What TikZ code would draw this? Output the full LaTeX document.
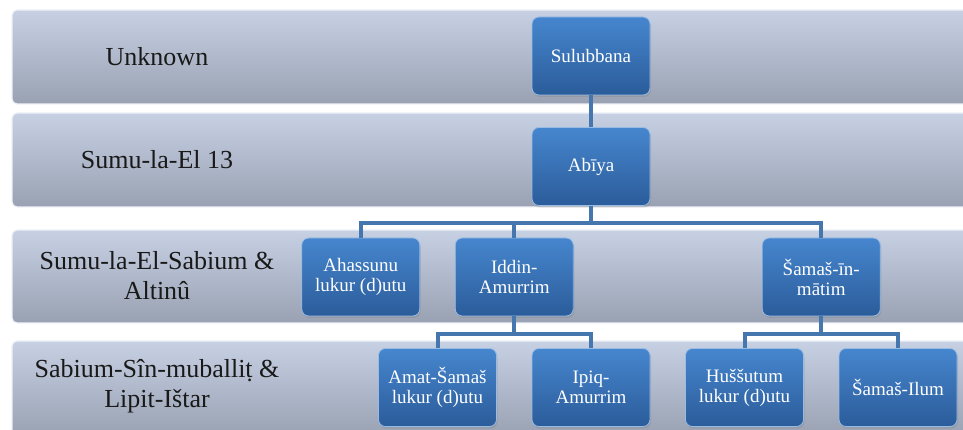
\documentclass[tikz,border=0pt]{standalone}
\usepackage{fontspec}
\setmainfont{Liberation Serif}
\usetikzlibrary{shadows}

\definecolor{bandtop}{HTML}{C7D1E4}
\definecolor{bandbot}{HTML}{99A1B2}
\definecolor{boxtop}{HTML}{4686CE}
\definecolor{boxbot}{HTML}{2B5C9A}
\definecolor{linkblue}{HTML}{4676AE}

\begin{document}
\begin{tikzpicture}[x=1pt, y=1pt, node distance=110.5pt,
  band/.style={rounded corners=5pt, top color=bandtop, bottom color=bandbot, draw=white!70!bandtop, line width=1.2pt, minimum width=963pt, inner sep=0pt},
  era/.style={align=center, text=black!90, font=\fontsize{26}{30}\selectfont},
  person/.style={rounded corners=7pt, top color=boxtop, bottom color=boxbot, draw=boxtop!55!white, line width=0.8pt, minimum width=118pt, minimum height=78pt, inner sep=1pt, align=center, text=white, font=\fontsize{19}{20}\selectfont, drop shadow={opacity=0.3, shadow xshift=1pt, shadow yshift=-2pt}},
  link/.style={draw=linkblue, line width=4pt}]
\clip (0,0) rectangle (963,430);

% generation bands
\node[band, minimum height=94pt] (band1) at (493.5,373) {};
\node[band, minimum height=94pt] (band2) at (493.5,270) {};
\node[band, minimum height=93pt] (band3) at (493.5,153.5) {};
\node[band, minimum height=95pt] (band4) at (493.5,41.5) {};

\node[era] (era1) at (157,373) {Unknown};
\node[era] (era2) at (157,270) {Sumu-la-El 13};
\node[era] (era3) at (157,154) {Sumu-la-El-Sabium \&\\Altinû};
\node[era] (era4) at (157,44) {Sabium-Sîn-muballiṭ \&\\Lipit-Ištar};

% family tree
\node[person] (sulubbana) at (591,374) {Sulubbana};
\node[person, below of=sulubbana] (abiya) {Abīya};
\node[person, below of=abiya, xshift=-230.25pt] (ahassunu) {Ahassunu\\lukur (d)utu};
\node[person, below of=abiya, xshift=-76.75pt] (iddin) {Iddin-\\Amurrim};
\node[person, below of=abiya, xshift=230.25pt] (samasin) {Šamaš-īn-\\mātim};
\node[person, below of=iddin, xshift=-76.75pt] (amat) {Amat-Šamaš\\lukur (d)utu};
\node[person, below of=iddin, xshift=76.75pt] (ipiq) {Ipiq-\\Amurrim};
\node[person, below of=samasin, xshift=-76.75pt] (hussutum) {Huššutum\\lukur (d)utu};
\node[person, below of=samasin, xshift=76.75pt] (ilum) {Šamaš-Ilum};

\draw[link] (sulubbana) -- (abiya);
\draw[link] (abiya.south) -- ++(0,-17) -| (ahassunu.north);
\draw[link] (abiya.south) -- ++(0,-17) -| (iddin.north);
\draw[link] (abiya.south) -- ++(0,-17) -| (samasin.north);
\draw[link] (iddin.south) -- ++(0,-18) -| (amat.north);
\draw[link] (iddin.south) -- ++(0,-18) -| (ipiq.north);
\draw[link] (samasin.south) -- ++(0,-18) -| (hussutum.north);
\draw[link] (samasin.south) -- ++(0,-18) -| (ilum.north);
\end{tikzpicture}
\end{document}
